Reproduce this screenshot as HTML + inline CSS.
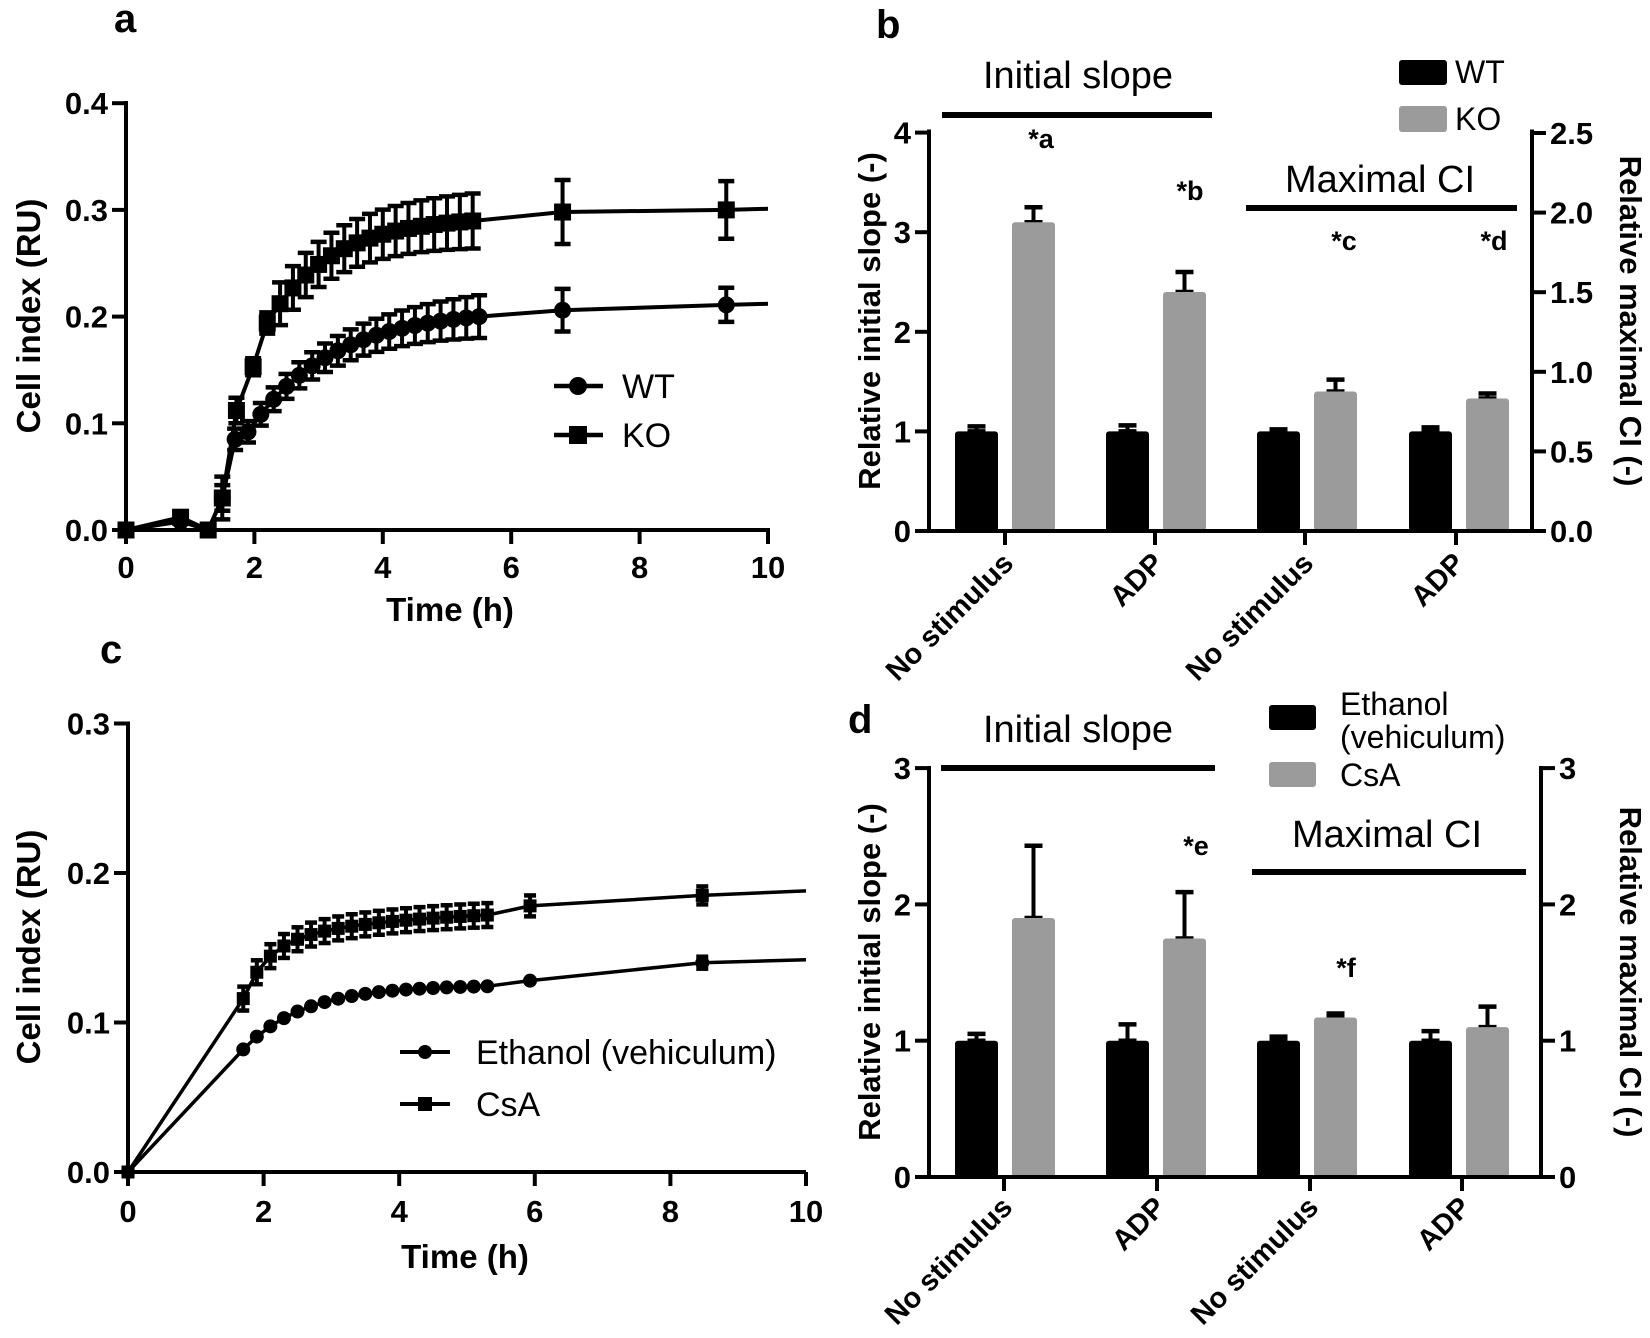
<!DOCTYPE html>
<html><head><meta charset="utf-8"><style>
html,body{margin:0;padding:0;background:#fff;}
svg{display:block;}
text{font-family:"Liberation Sans",Arial,sans-serif;fill:#000;}
.b{font-weight:bold;}
.n{font-family:"Liberation Sans Narrow","Liberation Sans",sans-serif;}
</style></head><body>
<svg id="s" width="1650" height="1338" viewBox="0 0 1650 1338" xmlns="http://www.w3.org/2000/svg">
<rect width="1650" height="1338" fill="#fff"/>
<text x="114" y="32" class="b" font-size="40">a</text>
<text x="876" y="38" class="b" font-size="40">b</text>
<text x="100" y="663" class="b" font-size="40">c</text>
<text x="848" y="733" class="b" font-size="40">d</text>
<g id="g"></g>
</svg>
<script>
var o=[];
function L(x1,y1,x2,y2,w){o.push('<line x1="'+x1+'" y1="'+y1+'" x2="'+x2+'" y2="'+y2+'" stroke="#000" stroke-width="'+(w||4)+'"/>');}
function T(x,y,s,fs,anc,cls,extra){o.push('<text x="'+x+'" y="'+y+'" font-size="'+fs+'" text-anchor="'+(anc||'start')+'" class="'+(cls||'')+'" '+(extra||'')+'>'+s+'</text>');}
function R(x,y,w,h,f,rx){o.push('<rect x="'+x+'" y="'+y+'" width="'+w+'" height="'+h+'" fill="'+f+'" rx="'+(rx||0)+'"/>');}
function C(x,y,r){o.push('<circle cx="'+x+'" cy="'+y+'" r="'+r+'" fill="#000"/>');}
function P(pts,w){o.push('<polyline fill="none" stroke="#000" stroke-width="'+(w||3.5)+'" points="'+pts.map(function(p){return p[0].toFixed(1)+','+p[1].toFixed(1)}).join(' ')+'"/>');}
function EB(x,y1,y2,cw){L(x,y1,x,y2,4);L(x-cw,y1,x+cw,y1,4.5);L(x-cw,y2,x+cw,y2,4.5);}

/* ---------- Panel a ---------- */
(function(){
var X=function(t){return 126+64.2*t}, Y=function(v){return 530-1067*v};
L(126,101,126,532,4);L(124,530,770,530,4);
for(var i=0;i<=4;i++){var y=Y(i/10);L(112,y,126,y,4);T(108,y+11,(i/10).toFixed(1),31,'end','b');}
for(var t=0;t<=10;t+=2){L(X(t),530,X(t),544,4);T(X(t),578,t,31,'middle','b');}
T(450,621,'Time (h)',33,'middle','b');
T(0,0,'Cell index (RU)',33,'middle','b','transform="translate(40,316) rotate(-90)"');
var wt=[[0,0,0],[0.85,0.008,0.004],[1.28,0,0.003],[1.5,0.03,0.012],[1.7,0.085,0.01]];
for(var t=1.9;t<=5.51;t+=0.2){wt.push([t,0.092+0.108*(1-Math.exp(-(t-1.9)/1.3))/(1-Math.exp(-3.6/1.3)),0.01+0.01*(t-1.9)/3.6]);}
wt.push([6.8,0.206,0.02]);wt.push([9.35,0.211,0.016]);
var ko=[[0,0,0],[0.85,0.012,0.005],[1.28,0,0.004],[1.5,0.03,0.02],[1.72,0.112,0.012],[1.98,0.153,0.008],[2.2,0.194,0.01]];
for(var t=2.4;t<=5.51;t+=0.2){ko.push([t,0.194+0.096*(1-Math.exp(-(t-2.2)/1.0))/(1-Math.exp(-3.3)),0.02+0.006*(t-2.4)/3.1]);}
ko.push([6.8,0.298,0.03]);ko.push([9.35,0.3,0.027]);
P(wt.map(function(p){return[X(p[0]),Y(p[1])]}).concat([[X(10),Y(0.212)]]),4);
P(ko.map(function(p){return[X(p[0]),Y(p[1])]}).concat([[X(10),Y(0.301)]]),4);
wt.forEach(function(p){if(p[2]>0.006)EB(X(p[0]),Y(p[1]-p[2]),Y(p[1]+p[2]),8);C(X(p[0]),Y(p[1]),8.5);});
ko.forEach(function(p){if(p[2]>0.006)EB(X(p[0]),Y(p[1]-p[2]),Y(p[1]+p[2]),8);R(X(p[0])-8.5,Y(p[1])-8.5,17,17,'#000');});
L(554,386,603,386,4.5);C(578,386,9);T(622,398,'WT',34,'start','n');
L(554,435,603,435,4.5);R(569,426,18,18,'#000');T(622,447,'KO',34,'start','n');
})();

/* ---------- Panel c ---------- */
(function(){
var Y0=1172, X=function(t){return 128+67.8*t}, Y=function(v){return Y0-1495*v};
L(128,Y(0.3)-2,128,Y0+2,4);L(126,Y0,806,Y0,4);
for(var i=0;i<=3;i++){var y=Y(i/10);L(114,y,128,y,4);T(110,y+11,(i/10).toFixed(1),31,'end','b');}
for(var t=0;t<=10;t+=2){L(X(t),Y0,X(t),Y0+14,4);T(X(t),1222,t,31,'middle','b');}
T(465,1268,'Time (h)',33,'middle','b');
T(0,0,'Cell index (RU)',33,'middle','b','transform="translate(40,947) rotate(-90)"');
var et=[[0,0,0]];
for(var t=1.7;t<=5.31;t+=0.2){et.push([t,0.125-0.043*Math.exp(-(t-1.7)/0.9),0]);}
et.push([5.93,0.128,0]);et.push([8.47,0.14,0.004]);
var cs=[[0,0,0]];
for(var t=1.7;t<=5.31;t+=0.2){cs.push([t,0.176-0.035*Math.exp(-(t-1.7)/0.35)-0.025*Math.exp(-(t-1.7)/2),0.008]);}
cs.push([5.93,0.178,0.007]);cs.push([8.47,0.185,0.006]);
P(et.map(function(p){return[X(p[0]),Y(p[1])]}).concat([[X(10),Y(0.142)]]));
P(cs.map(function(p){return[X(p[0]),Y(p[1])]}).concat([[X(10),Y(0.188)]]));
cs.forEach(function(p){if(p[2]>0)EB(X(p[0]),Y(p[1]-p[2]),Y(p[1]+p[2]),6);R(X(p[0])-6.5,Y(p[1])-6.5,13,13,'#000');});
et.forEach(function(p){if(p[2]>0)EB(X(p[0]),Y(p[1]-p[2]),Y(p[1]+p[2]),6);C(X(p[0]),Y(p[1]),7);});
L(400,1052,450,1052,4);C(425,1052,7);T(476,1064,'Ethanol (vehiculum)',34,'start','n');
L(400,1104,450,1104,4);R(418,1097,14,14,'#000');T(476,1116,'CsA',34,'start','n');
})();

/* ---------- Bar panels ---------- */
var BX=[955,1106,1257,1409], BW=43, GREY='#9b9b9b';
function bars(Y0,sc,vals,ticks,axR,top,lo){
  var Y=function(v){return Y0-sc*v};
  for(var i=0;i<4;i++){
    var bx=BX[i], gx=BX[i]+57, b=vals[i];
    EB(bx+BW/2,Y(b[0]),Y(b[1]),9);
    R(bx,Y(b[0]),BW,Y0-Y(b[0]),'#000',3);
    EB(gx+BW/2,Y(b[2]),Y(b[3]),9);
    R(gx,Y(b[2]),BW,Y0-Y(b[2]),GREY,3);
  }
  L(929,top-2,929,Y0+2,4);L(axR,top-2,axR,Y0+2,4);
  L(927,Y0,axR+2,Y0,4);
  ticks.forEach(function(t){L(t,Y0,t,Y0+14,4);});
  var labs=['No stimulus','ADP','No stimulus','ADP'];
  ticks.forEach(function(t,i){T(0,0,labs[i],29,'end','b','transform="translate('+(t+10)+','+(Y0+lo)+') rotate(-45)"');});
}
/* Panel b */
(function(){
var Y0=531, sc=99.6;
bars(Y0,sc,[[1,1.05,3.1,3.25],[1,1.06,2.4,2.6],[1,1.02,1.4,1.52],[1,1.04,1.33,1.38]],[1005,1155,1305,1456],1532,131.5,34);
for(var i=0;i<=4;i++){var y=Y0-sc*i;L(915,y,929,y,4);T(911,y+11,i,31,'end','b');}
for(var i=0;i<=5;i++){var y=Y0-(Y0-133)*i/5;L(1532,y,1546,y,4);T(1550,y+11,(i*0.5).toFixed(1),31,'start','b');}
T(0,0,'Relative initial slope (-)',31,'middle','b','transform="translate(880,321) rotate(-90)"');
T(0,0,'Relative maximal CI (-)',31,'middle','b','transform="translate(1620,321) rotate(90)"');
T(1078,88,'Initial slope',38,'middle','n');L(942,115,1212,115,6);
T(1380,192,'Maximal CI',38,'middle','n');L(1246,208,1517,208,6);
T(1041,148,'*a',27,'middle','b');T(1190,200,'*b',27,'middle','b');
T(1344,250,'*c',27,'middle','b');T(1494,250,'*d',27,'middle','b');
R(1399,60,48,25,'#000',3);T(1455,83,'WT',32,'start','n');
R(1399,106,48,26,GREY,3);T(1455,130,'KO',32,'start','n');
})();
/* Panel d */
(function(){
var Y0=1177, sc=136.3;
bars(Y0,sc,[[1,1.05,1.9,2.43],[1,1.12,1.75,2.09],[1,1.03,1.17,1.2],[1,1.07,1.1,1.25]],[1004,1157,1310,1462],1541,768,32);
for(var i=0;i<=3;i++){var y=Y0-sc*i;L(915,y,929,y,4);T(911,y+11,i,31,'end','b');L(1541,y,1555,y,4);T(1559,y+11,i,31,'start','b');}
T(0,0,'Relative initial slope (-)',31,'middle','b','transform="translate(880,972) rotate(-90)"');
T(0,0,'Relative maximal CI (-)',31,'middle','b','transform="translate(1620,972) rotate(90)"');
T(1078,742,'Initial slope',38,'middle','n');L(941,768,1215,768,6);
T(1387,847,'Maximal CI',38,'middle','n');L(1252,872,1526,872,6);
T(1196,855,'*e',27,'middle','b');T(1346,977,'*f',27,'middle','b');
R(1269,705,47,25,'#000',3);T(1340,715,'Ethanol',32,'start','n');T(1340,748,'(vehiculum)',32,'start','n');
R(1269,762,47,25,GREY,3);T(1340,786,'CsA',32,'start','n');
})();
document.getElementById('g').innerHTML=o.join('');
</script>
</body></html>
